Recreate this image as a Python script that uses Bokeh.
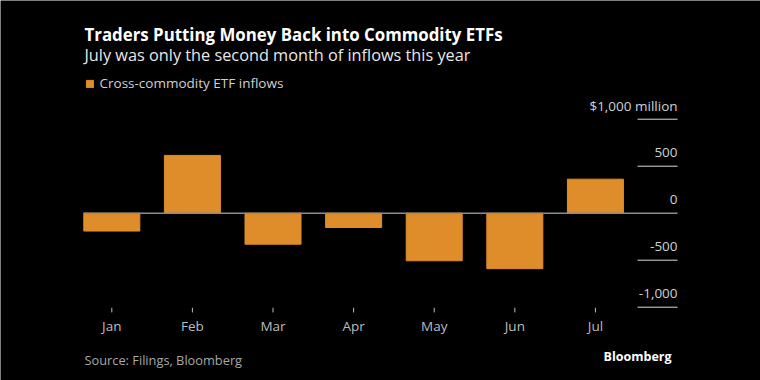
from bokeh.plotting import figure
from bokeh.models import Range1d, Label, Legend, LegendItem, ColumnDataSource
from bokeh.core.properties import value
from bokeh.embed import file_html
from bokeh.resources import INLINE

months = ["Jan", "Feb", "Mar", "Apr", "May", "Jun", "Jul"]
inflows = [-190, 615, -330, -152, -506, -590, 362]
y_ticks = [-1000, -500, 500, 1000]
y_tick_labels = ["-1,000", "-500", "500", "$1,000 million"]
zero_tick = [0]
zero_label = ["0"]

FONT = "Open Sans"
BAR = "#DE8D2A"

# layout constants (data units)
X_LEFT, X_RIGHT = -0.351, 7.019      # extent of the chart body
GRID_X0 = 6.522                      # start of the short gridlines
TICK_Y0, TICK_Y1 = -1006, -1056      # x-axis tick marks
MONTH_Y = -1200                      # month label centre

p = figure(width=760, height=380, output_backend="svg", toolbar_location=None,
           x_range=Range1d(-1.381, 8.048), y_range=Range1d(-1780, 2263),
           min_border=0, x_axis_location=None, y_axis_location=None)
p.title.visible = False
p.background_fill_color = "black"
p.border_fill_color = "black"
p.outline_line_color = None
p.grid.visible = False

xs = list(range(len(months)))
src = ColumnDataSource(dict(x=xs, top=inflows))
bars = p.vbar(x="x", top="top", bottom=0, width=0.695, source=src,
              fill_color=BAR, line_color=BAR)

# zero line
p.segment(x0=X_LEFT, x1=X_RIGHT, y0=zero_tick, y1=zero_tick,
          line_color="#8c8c8c", line_width=1.5)

# short gridlines at right, labels above them
gsrc = ColumnDataSource(dict(y=y_ticks, lab=y_tick_labels))
p.segment(x0=GRID_X0, x1=X_RIGHT, y0="y", y1="y", source=gsrc,
          line_color="#d8d8d8", line_width=1)
p.text(x=X_RIGHT, y="y", text="lab", source=gsrc, text_align="right",
       text_baseline="middle", y_offset=-13.7, text_font=value(FONT),
       text_font_size="13.5px", text_color="#d0d0d0")
zsrc = ColumnDataSource(dict(y=zero_tick, lab=zero_label))
p.text(x=X_RIGHT, y="y", text="lab", source=zsrc, text_align="right",
       text_baseline="middle", y_offset=-13.7, text_font=value(FONT),
       text_font_size="13.5px", text_color="#d0d0d0")

# x axis ticks and month labels
msrc = ColumnDataSource(dict(x=xs, m=months))
p.segment(x0="x", x1="x", y0=TICK_Y0, y1=TICK_Y1, source=msrc,
          line_color="#bbbbbb", line_width=1)
p.text(x="x", y=MONTH_Y, text="m", source=msrc, text_align="center",
       text_baseline="middle", text_font=value(FONT),
       text_font_size="13.5px", text_color="#bdbdbd")

legend = Legend(items=[LegendItem(label="Cross-commodity ETF inflows", renderers=[bars])],
                location=(84.5, 288), orientation="horizontal",
                background_fill_alpha=0, border_line_color=None,
                label_text_font=FONT, label_text_font_size="13.5px",
                label_text_color="#d0d0d0", glyph_width=9, glyph_height=9,
                label_height=9, label_standoff=6, padding=0, margin=0)
p.add_layout(legend)

p.add_layout(Label(x=84, y=346.5, x_units="screen", y_units="screen",
                   text="Traders Putting Money Back into Commodity ETFs",
                   text_font=FONT, text_font_style="bold", text_font_size="16.85px",
                   text_color="white", text_baseline="middle"))
p.add_layout(Label(x=84, y=326, x_units="screen", y_units="screen",
                   text="July was only the second month of inflows this year",
                   text_font=FONT, text_font_size="16.3px",
                   text_color="#e8e8e8", text_baseline="middle"))
p.add_layout(Label(x=84, y=21, x_units="screen", y_units="screen",
                   text="Source: Filings, Bloomberg",
                   text_font=FONT, text_font_size="12.8px",
                   text_color="#a8a8a8", text_baseline="middle"))
p.add_layout(Label(x=671, y=24, x_units="screen", y_units="screen",
                   text="Bloomberg", text_align="right",
                   text_font=FONT, text_font_style="bold", text_font_size="12.5px",
                   text_color="white", text_baseline="middle"))

open("out.html", "w").write(file_html(p, INLINE))
